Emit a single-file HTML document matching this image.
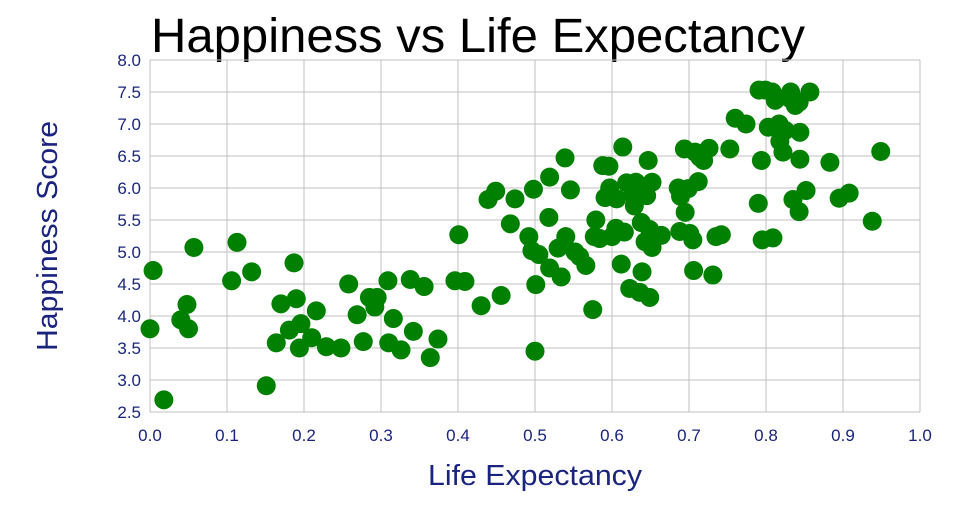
<!DOCTYPE html>
<html><head><meta charset="utf-8"><style>
body{margin:0;background:#fff;}
svg text{font-family:"Liberation Sans",sans-serif;}
</style></head><body>
<svg id="chart" width="960" height="500">
<text x="151" y="52" font-size="48" textLength="654" lengthAdjust="spacingAndGlyphs" fill="#000">Happiness vs Life Expectancy</text>
<text transform="translate(57,236) rotate(-90)" text-anchor="middle" font-size="29" textLength="230" lengthAdjust="spacingAndGlyphs" fill="#1a237e">Happiness Score</text>
<text x="535" y="485" text-anchor="middle" font-size="29" textLength="214" lengthAdjust="spacingAndGlyphs" fill="#1a237e">Life Expectancy</text>
<g id="grid"></g><g id="ticks"></g><g id="points"></g>
</svg>
<script>
const xTicks=[0,0.1,0.2,0.3,0.4,0.5,0.6,0.7,0.8,0.9,1.0];
const yTicks=[2.5,3.0,3.5,4.0,4.5,5.0,5.5,6.0,6.5,7.0,7.5,8.0];
const lifeExp=[0,0.004,0.018,0.04,0.048,0.05,0.057,0.106,0.113,0.132,0.151,0.164,0.17,0.181,0.187,0.19,0.194,0.196,0.21,0.216,0.229,0.248,0.258,0.269,0.277,0.285,0.292,0.295,0.309,0.31,0.316,0.326,0.338,0.342,0.356,0.364,0.374,0.396,0.401,0.409,0.43,0.439,0.449,0.456,0.468,0.474,0.492,0.496,0.498,0.5,0.501,0.505,0.518,0.519,0.519,0.53,0.534,0.539,0.54,0.546,0.552,0.558,0.566,0.575,0.577,0.579,0.584,0.588,0.591,0.596,0.597,0.6,0.605,0.606,0.612,0.614,0.616,0.619,0.623,0.627,0.629,0.631,0.636,0.638,0.639,0.643,0.645,0.647,0.649,0.649,0.652,0.652,0.664,0.686,0.688,0.689,0.694,0.695,0.699,0.701,0.705,0.706,0.708,0.712,0.714,0.719,0.726,0.731,0.735,0.742,0.753,0.76,0.774,0.791,0.79,0.794,0.795,0.799,0.803,0.808,0.809,0.812,0.817,0.818,0.822,0.825,0.831,0.832,0.835,0.838,0.843,0.843,0.844,0.844,0.852,0.857,0.883,0.895,0.908,0.938,0.949];
const happiness=[3.8,4.71,2.69,3.94,4.18,3.8,5.07,4.55,5.15,4.69,2.91,3.58,4.19,3.78,4.83,4.27,3.5,3.88,3.66,4.08,3.52,3.5,4.5,4.02,3.6,4.29,4.14,4.29,4.55,3.58,3.96,3.47,4.57,3.76,4.46,3.35,3.64,4.55,5.27,4.54,4.16,5.82,5.95,4.32,5.44,5.83,5.24,5.02,5.98,3.45,4.49,4.96,5.54,4.75,6.17,5.06,4.61,6.47,5.24,5.97,5.0,4.93,4.79,4.1,5.24,5.5,5.21,6.35,5.85,6.34,6.0,5.24,5.37,5.83,4.81,6.64,5.31,6.08,4.43,5.9,5.72,6.09,4.37,5.46,4.69,5.16,5.88,6.43,5.35,4.29,6.09,5.07,5.26,6.0,5.32,5.87,6.61,5.62,5.99,5.29,5.19,4.71,6.56,6.1,6.48,6.43,6.62,4.64,5.24,5.27,6.61,7.09,7.0,7.53,5.76,6.43,5.19,7.53,6.95,7.5,5.22,7.37,7.0,6.73,6.56,6.9,7.4,7.5,5.82,7.29,7.34,5.63,6.87,6.45,5.96,7.5,6.4,5.84,5.92,5.48,6.57];
const NS='http://www.w3.org/2000/svg';
const X0=150,X1=920,Y0=412,Y1=60;
function xs(v){return X0+(v-0)/(1-0)*(X1-X0);}
function ys(v){return Y0-(v-2.5)/(8-2.5)*(Y0-Y1);}
function mk(t,a){const e=document.createElementNS(NS,t);for(const k in a)e.setAttribute(k,a[k]);return e;}
const grid=document.getElementById('grid'),ticks=document.getElementById('ticks'),pts=document.getElementById('points');
xTicks.forEach(v=>{
 const l=mk('line',{x1:xs(v),x2:xs(v),y1:Y1,y2:Y0,stroke:'#c0c0c0','stroke-width':1});
 
 
 grid.appendChild(l);
 const t=mk('text',{x:xs(v),y:441,'text-anchor':'middle','font-size':17,fill:'#1a237e'});
 t.textContent=v.toFixed(1);
 
 
 ticks.appendChild(t);
});
yTicks.forEach(v=>{
 const l=mk('line',{x1:X0,x2:X1,y1:ys(v),y2:ys(v),stroke:'#c0c0c0','stroke-width':1});
 
 
 grid.appendChild(l);
 const t=mk('text',{x:141,y:ys(v)+6,'text-anchor':'end','font-size':17,fill:'#1a237e'});
 t.textContent=v.toFixed(1);
 
 
 ticks.appendChild(t);
});
lifeExp.forEach((v,i)=>{
 const c=mk('circle',{cx:xs(v),cy:ys(happiness[i]),r:9.5,fill:'#008000'});
 
 
 pts.appendChild(c);
});
</script>
</body></html>
